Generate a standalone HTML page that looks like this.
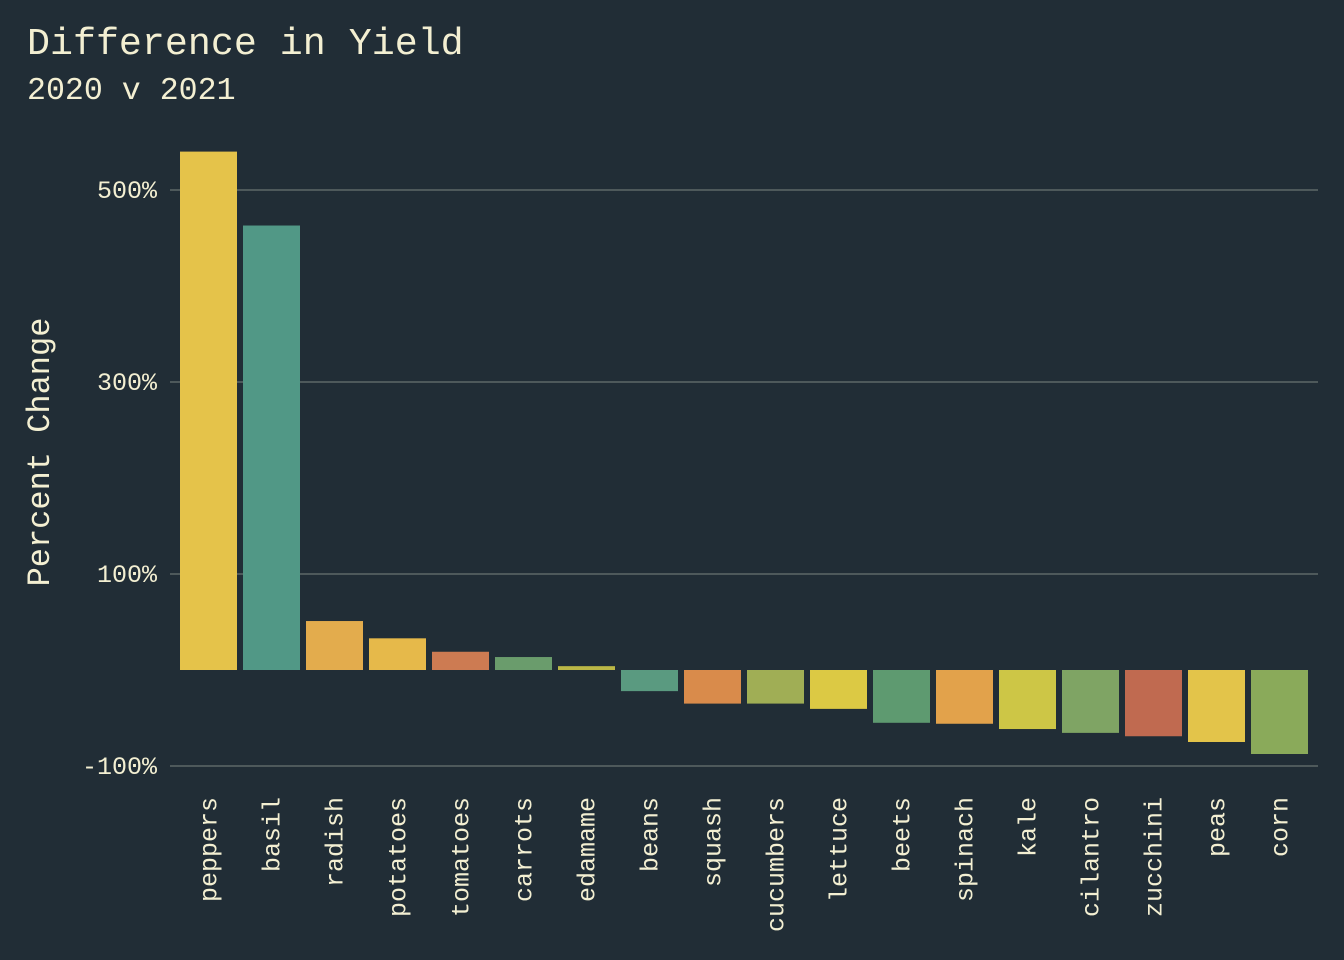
<!DOCTYPE html>
<html><head><meta charset="utf-8"><style>
html,body{margin:0;padding:0;background:#212d36;}
svg{display:block;font-family:"Liberation Mono",monospace;}
</style></head><body>
<svg id="chart" width="1344" height="960" viewBox="0 0 1344 960">
<rect width="1344" height="960" fill="#212d36"/>
<text x="27" y="54" font-size="38.3" fill="#f3efd2">Difference in Yield</text>
<text x="27" y="99" font-size="31.6" fill="#f3efd2">2020 v 2021</text>
<text transform="translate(49,452) rotate(-90)" text-anchor="middle" font-size="32" fill="#f3efd2">Percent Change</text>
<g id="grid"></g><g id="bars"></g><g id="labels"></g>
</svg>
<script>
const categories=["peppers","basil","radish","potatoes","tomatoes","carrots","edamame","beans","squash","cucumbers","lettuce","beets","spinach","kale","cilantro","zucchini","peas","corn"];
const values=[540,463,51,33,19,13.5,4,-22,-35,-35,-40.5,-55,-56,-61.5,-65.5,-69,-75,-87.5];
const colors=["#e5c34a","#519886","#e3ac4d","#e6b94a","#cd7b52","#6a9c6c","#bbb746","#5a9a80","#d98b4b","#a0ae55","#dcc944","#5e9a70","#e2a24b","#cdc646","#7fa464","#c06a50","#e3c44a","#8aaa5a"];
const ticks=[-100,100,300,500];
const tickLabels=["-100%","100%","300%","500%"];
const NS="http://www.w3.org/2000/svg";
const y=v=>670-v*0.96;
const step=63.0,bw=57;
const x=i=>180+i*step;
const grid=document.getElementById('grid'),bars=document.getElementById('bars'),labels=document.getElementById('labels');
ticks.forEach((t,i)=>{
 const l=document.createElementNS(NS,'line');
 
 
 l.setAttribute('x1',170);l.setAttribute('x2',1318);l.setAttribute('y1',y(t));l.setAttribute('y2',y(t));
 l.setAttribute('stroke','#7c8580');l.setAttribute('stroke-width','1');
 grid.appendChild(l);
 const tx=document.createElementNS(NS,'text');
 
 
 tx.setAttribute('x',157);tx.setAttribute('y',y(t)+8);tx.setAttribute('text-anchor','end');
 tx.setAttribute('font-size','25');tx.setAttribute('fill','#f3efd2');tx.textContent=tickLabels[i];
 grid.appendChild(tx);
});
categories.forEach((c,i)=>{
 const v=values[i];
 const r=document.createElementNS(NS,'rect');
 
 
 r.setAttribute('x',x(i));r.setAttribute('width',bw);
 r.setAttribute('y',Math.min(y(v),y(0)));r.setAttribute('height',Math.abs(y(v)-y(0)));
 r.setAttribute('fill',colors[i]);
 bars.appendChild(r);
 const t=document.createElementNS(NS,'text');
 
 
 const cx=x(i)+bw/2+8;
 t.setAttribute('transform','translate('+cx+',797) rotate(-90)');
 t.setAttribute('text-anchor','end');t.setAttribute('font-size','25');t.setAttribute('fill','#f3efd2');
 t.textContent=c;
 labels.appendChild(t);
});
</script>
</body></html>
